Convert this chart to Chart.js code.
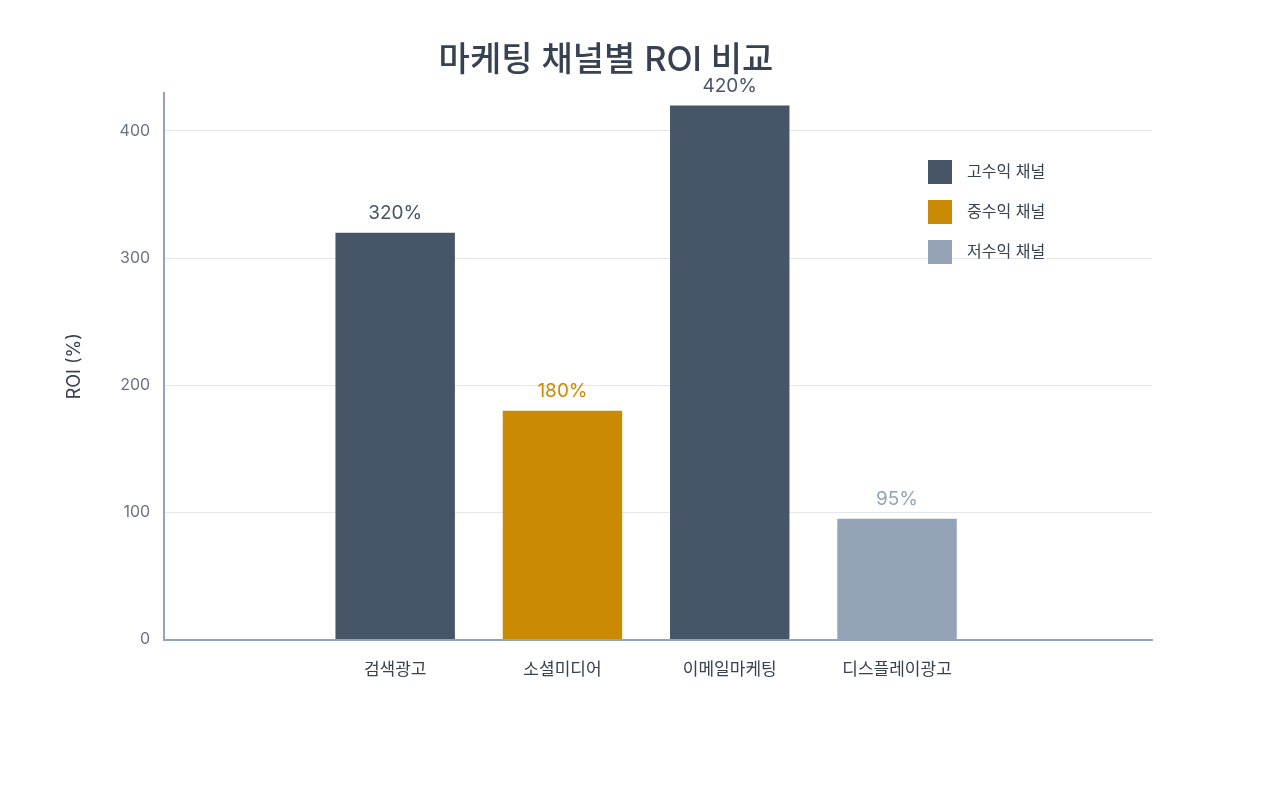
<!DOCTYPE html>
<html><head><meta charset="utf-8">
<script src="https://cdn.jsdelivr.net/npm/chart.js@4"></script>
<style>body{margin:0;background:#fff}#wrap{width:1280px;height:800px}</style>
</head><body><div id="wrap"><canvas id="c"></canvas></div>
<script>
const channels = ['검색광고', '소셜미디어', '이메일마케팅', '디스플레이광고']
const roi = [320, 180, 420, 95]
const tiers = [0, 1, 0, 2]
const tierNames = ['고수익 채널', '중수익 채널', '저수익 채널']
const tierColors = ['#475569', '#CA8A04', '#94A3B8']

const FONT = 'Inter, "Noto Sans CJK KR", sans-serif'
Chart.defaults.font.family = FONT

// value labels + legend
const extras = {
    id: 'extras',
    afterDatasetsDraw(chart) {
        const ctx = chart.ctx
        const meta = chart.getDatasetMeta(0)
        ctx.save()
        ctx.font = '19px ' + FONT
        ctx.textAlign = 'center'
        ctx.textBaseline = 'bottom'
        meta.data.forEach((bar, i) => {
            ctx.fillStyle = tierColors[tiers[i]]
            ctx.fillText(roi[i] + '%', bar.x, bar.y - 10)
        })
        ctx.font = '16px ' + FONT
        ctx.textAlign = 'left'
        ctx.textBaseline = 'middle'
        tierNames.forEach((n, i) => {
            const y = 172 + i * 40
            ctx.fillStyle = tierColors[i]
            ctx.fillRect(928, y - 12, 24, 24)
            ctx.fillStyle = '#374151'
            ctx.fillText(n, 967, y)
        })
        ctx.restore()
    }
}

new Chart(document.getElementById('c'), {
    type: 'bar',
    data: {
        datasets: [{
            data: roi.map((v, i) => ({ x: i, y: v })),
            backgroundColor: tiers.map(t => tierColors[t]),
            barPercentage: 0.714,
            categoryPercentage: 1
        }]
    },
    options: {
        responsive: true,
        maintainAspectRatio: false,
        animation: false,
        layout: { padding: { left: 60, right: 128, bottom: 108, top: 10 } },
        scales: {
            y: {
                min: 0, max: 430,
                afterBuildTicks: (axis) => { axis.ticks = [0, 100, 200, 300, 400].map(v => ({ value: v })) },
                border: { color: '#94A3B8', width: 2 },
                grid: { color: '#E5E7EB', drawTicks: false },
                ticks: { color: '#6B7280', font: { size: 16 }, padding: 14 },
                title: { display: true, text: 'ROI (%)', color: '#374151', font: { size: 18 }, padding: { bottom: 20 } }
            },
            x: {
                type: 'linear',
                min: -0.643, max: 3.786,
                afterBuildTicks: (axis) => { axis.ticks = channels.map((c, i) => ({ value: i })) },
                border: { color: '#94A3B8', width: 2 },
                grid: { display: false },
                ticks: { color: '#374151', font: { size: 17 }, padding: 12, callback: (v) => channels[v] }
            }
        },
        plugins: {
            legend: { display: false },
            tooltip: { enabled: false },
            title: {
                display: true, text: '마케팅 채널별 ROI 비교', color: '#374151',
                font: { size: 34, weight: '500' }, padding: { top: 30, bottom: 12 }
            }
        }
    },
    plugins: [extras]
})
</script></body></html>
